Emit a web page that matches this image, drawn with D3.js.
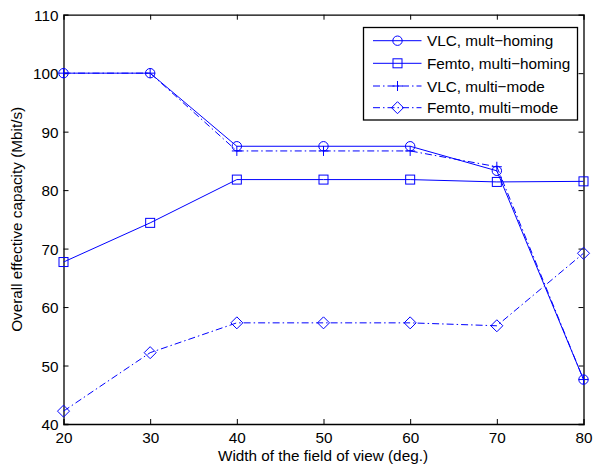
<!DOCTYPE html>
<html><head><meta charset="utf-8">
<script src="https://cdn.jsdelivr.net/npm/d3@7"></script>
<style>body{margin:0;background:#fff}svg{display:block}text{font-family:"Liberation Sans",Arial,sans-serif}</style>
</head><body>
<script>
const xValues = [20, 30, 40, 50, 60, 70, 80];
const vlcMultiHoming = [100, 100, 87.5, 87.5, 87.5, 83.3, 47.6];
const femtoMultiHoming = [67.7, 74.4, 81.8, 81.8, 81.8, 81.4, 81.5];
const vlcMultiMode = [100, 100, 86.7, 86.7, 86.7, 84.0, 47.6];
const femtoMultiMode = [42.2, 52.2, 57.3, 57.3, 57.3, 56.8, 69.2];
const xTicks = [20, 30, 40, 50, 60, 70, 80];
const yTicks = [40, 50, 60, 70, 80, 90, 100, 110];
const seriesNames = ["VLC, mult\u2212homing", "Femto, multi\u2212homing", "VLC, multi\u2212mode", "Femto, multi\u2212mode"];

const W = 593, H = 465;
const L = 63.5, R = 583.5, T = 14.7, B = 424;
const color = "#0000ff";
const fs = 15.3;

const svg = d3.select("body").append("svg").attr("width", W).attr("height", H);
const x = d3.scaleLinear().domain([20, 80]).range([L, R]);
const y = d3.scaleLinear().domain([40, 110]).range([B, T]);

const series = [
  {name: seriesNames[0], vals: vlcMultiHoming, dash: null, marker: "circle"},
  {name: seriesNames[1], vals: femtoMultiHoming, dash: null, marker: "square"},
  {name: seriesNames[2], vals: vlcMultiMode, dash: "7,3,1.5,3", marker: "plus"},
  {name: seriesNames[3], vals: femtoMultiMode, dash: "7,3,1.5,3", marker: "diamond"}
];

function drawMarker(g, type, cx, cy) {
  const s = g.append("g").attr("fill", "none").attr("stroke", color).attr("stroke-width", 1);
  if (type === "circle") s.append("circle").attr("cx", cx).attr("cy", cy).attr("r", 4.7);
  else if (type === "square") s.append("rect").attr("x", cx - 4.5).attr("y", cy - 4.5).attr("width", 9).attr("height", 9);
  else if (type === "plus") s.append("path").attr("d", `M${cx-5},${cy}H${cx+5}M${cx},${cy-5}V${cy+5}`);
  else if (type === "diamond") s.append("path").attr("d", `M${cx},${cy-6}L${cx+6},${cy}L${cx},${cy+6}L${cx-6},${cy}Z`);
}

// axes
const gx = svg.append("g").attr("transform", `translate(0,${B})`)
  .call(d3.axisBottom(x).tickValues(xTicks).tickSize(-5).tickPadding(8).tickFormat(d3.format("d")));
const gxTop = svg.append("g").attr("transform", `translate(0,${T})`)
  .call(d3.axisTop(x).tickValues(xTicks).tickSize(-5).tickFormat(""));
const gy = svg.append("g").attr("transform", `translate(${L},0)`)
  .call(d3.axisLeft(y).tickValues(yTicks).tickSize(-5).tickPadding(5).tickFormat(d3.format("d")));
const gyR = svg.append("g").attr("transform", `translate(${R},0)`)
  .call(d3.axisRight(y).tickValues(yTicks).tickSize(-5).tickFormat(""));
[gx, gxTop, gy, gyR].forEach(g => {
  g.select(".domain").attr("stroke", "#000").attr("stroke-width", 1.3);
  g.selectAll(".tick line").attr("stroke", "#000").attr("stroke-width", 1);
  g.selectAll(".tick text").attr("fill", "#000").style("font-size", fs + "px").style("font-family", '"Liberation Sans",Arial,sans-serif');
});
gx.selectAll(".tick text").attr("dy", "0.71em");
gy.selectAll(".tick text").attr("dy", "0.36em");
gx.selectAll(".tick line").filter(d => d === 20 || d === 80).remove();
gxTop.selectAll(".tick line").filter(d => d === 20 || d === 80).remove();
gy.selectAll(".tick line").filter(d => d === 40 || d === 110).remove();
gyR.selectAll(".tick line").filter(d => d === 40 || d === 110).remove();

// lines
const plot = svg.append("g");
series.forEach(s => {
  const line = d3.line().x((d, i) => x(xValues[i])).y(d => y(d));
  plot.append("path").datum(s.vals).attr("d", line).attr("fill", "none")
    .attr("stroke", color).attr("stroke-width", 1)
    .attr("stroke-dasharray", s.dash);
  s.vals.forEach((v, i) => drawMarker(plot, s.marker, x(xValues[i]), y(v)));
});

// labels
svg.append("text").attr("x", (L + R) / 2 - 0.5).attr("y", 461).attr("text-anchor", "middle")
  .style("font-size", fs + "px").text("Width of the field of view (deg.)");
svg.append("text").attr("transform", `translate(22,${(T + B) / 2}) rotate(-90)`).attr("text-anchor", "middle")
  .style("font-size", fs + "px").text("Overall effective capacity (Mbit/s)");

// legend
const lg = svg.append("g");
lg.append("rect").attr("x", 363.5).attr("y", 27.5).attr("width", 214).attr("height", 92.5)
  .attr("fill", "#fff").attr("stroke", "#000").attr("stroke-width", 1.3);
const ly = [40.7, 63.3, 86, 107.7];
series.forEach((s, i) => {
  lg.append("line").attr("x1", 373).attr("x2", 421.5).attr("y1", ly[i]).attr("y2", ly[i])
    .attr("stroke", color).attr("stroke-width", 1).attr("stroke-dasharray", s.dash);
  drawMarker(lg, s.marker, 397.5, ly[i]);
  lg.append("text").attr("x", 427).attr("y", ly[i]).attr("dy", "0.36em")
    .style("font-size", fs + "px").text(s.name);
});
</script>
</body></html>
